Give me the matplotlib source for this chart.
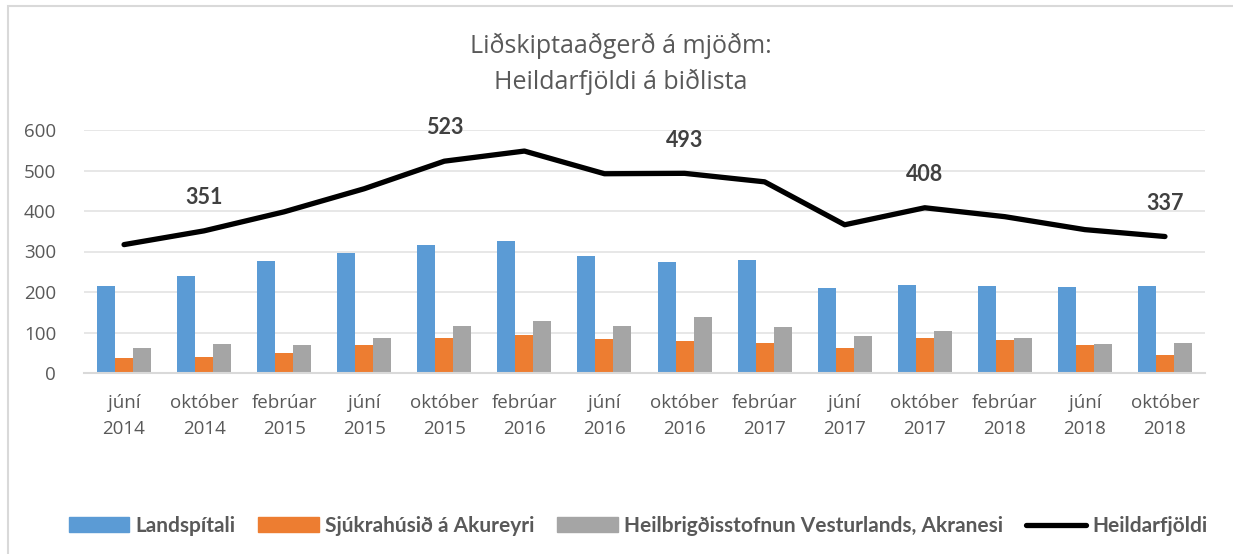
import matplotlib
matplotlib.use("Agg")
import matplotlib.pyplot as plt
import numpy as np
from matplotlib.patches import Rectangle, Patch
from matplotlib.lines import Line2D

plt.rcParams['font.family'] = ['Open Sans', 'DejaVu Sans']

months = ["júní", "október", "febrúar", "júní", "október", "febrúar", "júní",
          "október", "febrúar", "júní", "október", "febrúar", "júní", "október"]
years = ["2014", "2014", "2015", "2015", "2015", "2016", "2016",
         "2016", "2017", "2017", "2017", "2018", "2018", "2018"]
landspitali = [215, 239, 277, 297, 315, 325, 288, 273, 280, 209, 217, 214, 213, 215]
akureyri = [38, 39, 49, 68, 87, 93, 84, 80, 75, 62, 86, 82, 68, 45]
akranes = [61, 71, 68, 86, 117, 128, 116, 138, 114, 92, 103, 86, 71, 74]
heildar = [317, 351, 398, 455, 523, 548, 492, 493, 472, 366, 408, 386, 354, 337]
labelled = [1, 4, 7, 10, 13]

series_names = ["Landspítali", "Sjúkrahúsið á Akureyri",
                "Heilbrigðisstofnun Vesturlands, Akranesi", "Heildarfjöldi"]
colors = ["#5B9BD5", "#ED7D31", "#A5A5A5", "#000000"]

W, H = 1233, 554
fig = plt.figure(figsize=(W / 100, H / 100), dpi=100)
ax = fig.add_axes([84 / W, 1 - 373 / H, (1205 - 84) / W, (373 - 130) / H])

x = np.arange(len(months))
bw = 0.225
ax.bar(x - bw, landspitali, bw, color=colors[0], zorder=2)
ax.bar(x, akureyri, bw, color=colors[1], zorder=2)
ax.bar(x + bw, akranes, bw, color=colors[2], zorder=2)
ax.plot(x, heildar, color=colors[3], lw=3.8, solid_capstyle='round',
        solid_joinstyle='round', zorder=3)

for i in labelled:
    ax.annotate(str(heildar[i]), (x[i], heildar[i]), xytext=(0, 24),
                textcoords='offset points', ha='center', va='center',
                fontsize=15.5, fontweight='bold', color='#404040',
                family=['Lato', 'DejaVu Sans'])

ax.set_xlim(-0.5, len(months) - 0.5)
ax.set_ylim(0, 600)
ax.set_yticks(range(0, 601, 100))
ax.yaxis.grid(True, color='#E3E3E3', lw=1.2, zorder=0)
ax.set_axisbelow(True)
for s in ['top', 'right', 'left']:
    ax.spines[s].set_visible(False)
ax.spines['bottom'].set_color('#D9D9D9')
ax.spines['bottom'].set_linewidth(1.5)
ax.tick_params(axis='both', length=0, labelsize=13.5, labelcolor='#595959')
ax.tick_params(axis='y', pad=20)
ax.tick_params(axis='x', pad=15)
ax.set_xticks(x)
ax.set_xticklabels([f"{m}\n{y}" for m, y in zip(months, years)], linespacing=1.6)

fig.text(621 / W, 1 - 64 / H, "Liðskiptaaðgerð á mjöðm:\nHeildarfjöldi á biðlista",
         ha='center', va='center', fontsize=18, color='#595959',
         linespacing=1.45)

handles = [Patch(color=colors[0]), Patch(color=colors[1]), Patch(color=colors[2]),
           Line2D([0], [0], color='black', lw=3.8, solid_capstyle='round')]
leg = fig.legend(handles, series_names, loc='center', ncol=4,
                 bbox_to_anchor=(638 / W, 1 - 526 / H), frameon=False,
                 handlelength=2.9, handleheight=0.7, handletextpad=0.3,
                 columnspacing=1.1,
                 prop={'size': 15, 'weight': 'bold', 'family': ['Lato', 'DejaVu Sans']})
for t in leg.get_texts():
    t.set_color('#595959')

fig.patches.append(Rectangle((8 / W, -0.1), 1.2, 1 - 6 / H + 0.1,
                             transform=fig.transFigure, fill=False,
                             edgecolor='#D9D9D9', lw=1.5))

fig.savefig("out.png", dpi=100)
